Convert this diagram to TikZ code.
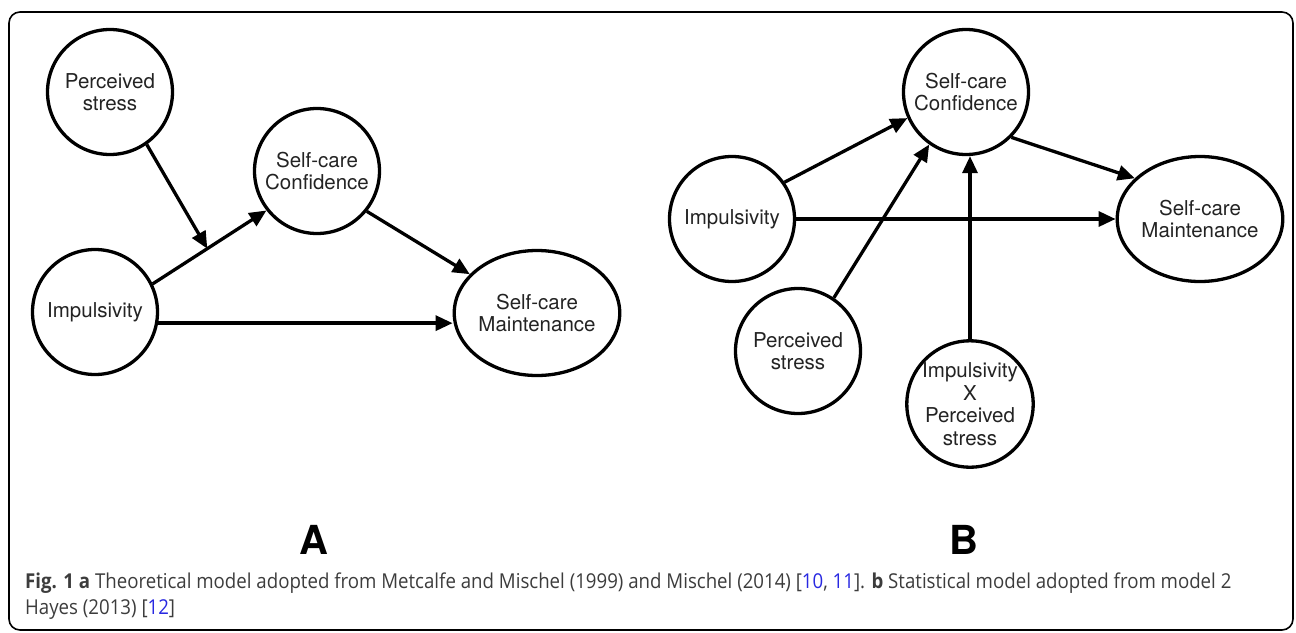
\documentclass[tikz,border=0pt]{standalone}
\usepackage{fontspec}
\usetikzlibrary{arrows.meta,shapes.geometric,calc}
\newfontfamily\heros{TeX Gyre Heros}
\newfontfamily\capfont[FakeStretch=0.91]{Open Sans}
\definecolor{txt}{RGB}{35,35,35}
\definecolor{captxt}{RGB}{60,60,60}
\definecolor{reflink}{RGB}{40,40,225}
\tikzset{
  var/.style={circle, draw, line width=3.3pt, minimum size=125pt, inner sep=0pt, align=center,
    font=\heros\fontsize{20.5}{22.5}\selectfont, text=txt},
  wvar/.style={ellipse, draw, line width=3.3pt, minimum width=142pt, minimum height=125pt, inner sep=0pt,
    align=center, font=\heros\fontsize{20.5}{22.5}\selectfont, text=txt},
  arr/.style={line width=3.3pt, -{Triangle[length=17pt,width=15pt]}},
  panel/.style={font=\heros\bfseries\fontsize{40}{40}\selectfont, anchor=base, inner sep=0pt},
  captxtstyle/.style={font=\capfont\fontsize{20.5}{26}\selectfont, text=captxt, anchor=base west, inner sep=0pt}
}
\begin{document}
\begin{tikzpicture}[x=1pt,y=-1pt]
\useasboundingbox (0,0) rectangle (1296,632);
\draw[line width=1.6pt, rounded corners=11pt] (9,12) rectangle (1293,630);

% Panel A
\node[var] (psA) at (110,92) {Perceived\\stress};
\node[var] (confA) at (317,171) {Self-care\\Confidence};
\node[var] (impA) at (95,312) {Impulsivity};
\node[wvar] (maintA) at (537,313) {Self-care\\Maintenance};

\draw[arr] (impA.26) -- (confA.218);
\coordinate (mA) at ($(impA.26)!0.48!(confA.218)$);
\draw[arr] (psA.305) -- (mA);
\draw[arr] (confA.321) -- (maintA.150);
\draw[arr] (impA.-10) -- (impA.-10 -| maintA.west);

% Panel B
\node[var] (confB) at (966,92) {Self-care\\Confidence};
\node[var] (impB) at (732,219) {Impulsivity};
\node[wvar] (maintB) at (1200,219) {Self-care\\Maintenance};
\node[var] (psB) at (798,351) {Perceived\\stress};
\node[var] (ixps) at (970,404) {Impulsivity\\X\\Perceived\\stress};

\draw[arr] (impB.35) -- (confB.204);
\draw[arr] (psB.56) -- (confB.235);
\draw[arr] (ixps.north) -- (ixps.north |- confB.south);
\draw[arr] (confB.315) -- (maintB.148);
\draw[arr] (impB.east) -- (maintB.west);

% Panel labels
\node[panel] (labA) at (314,554) {A};
\node[panel] (labB) at (964,554) {B};

% Caption
\node[captxtstyle] (cap1) at (25,588) {\textbf{Fig. 1 a} Theoretical model adopted from Metcalfe and Mischel (1999) and Mischel (2014) [\textcolor{reflink}{10}, \textcolor{reflink}{11}]. \textbf{b} Statistical model adopted from model 2};
\node[captxtstyle] (cap2) at (25,614) {Hayes (2013) [\textcolor{reflink}{12}]};
\end{tikzpicture}
\end{document}
